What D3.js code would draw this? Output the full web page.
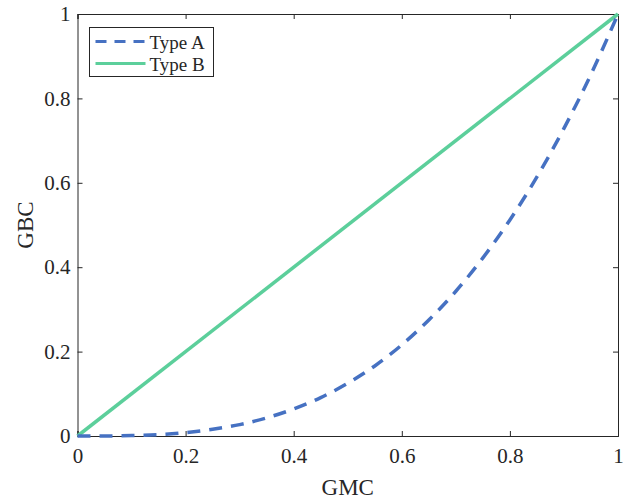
<!DOCTYPE html>
<html>
<head>
<meta charset="utf-8">
<script src="https://cdn.jsdelivr.net/npm/d3@7"></script>
<style>
  body { margin: 0; background: #fff; }
  text { font-family: "Liberation Serif", "DejaVu Serif", serif; fill: #262626; }
</style>
</head>
<body>
<svg id="chart" width="636" height="500"></svg>
<script>
// values
const gmc = [0, 0.05, 0.1, 0.15, 0.2, 0.25, 0.3, 0.35, 0.4, 0.45, 0.5, 0.55, 0.6, 0.65, 0.7, 0.75, 0.8, 0.85, 0.9, 0.95, 1];
const typeA = [0, 0.0001, 0.001, 0.003, 0.008, 0.016, 0.027, 0.043, 0.064, 0.091, 0.125, 0.166, 0.216, 0.275, 0.343, 0.422, 0.512, 0.614, 0.729, 0.857, 1];
const typeBx = [0, 1];
const typeB = [0, 1];
const ticks = [0, 0.2, 0.4, 0.6, 0.8, 1];
const seriesNames = ['Type A', 'Type B'];

const svg = d3.select('#chart');
const plotLeft = 77.5, plotRight = 618, plotTop = 14, plotBottom = 436;

const x = d3.scaleLinear().domain([0, 1]).range([plotLeft, plotRight]);
const y = d3.scaleLinear().domain([0, 1]).range([plotBottom, plotTop]);

const fmt = d => d === 0 || d === 1 ? String(d) : d.toFixed(1);

// axes: ticks point inward, box all round
const tickLen = 5;
svg.append('g').attr('transform', 'translate(0,' + plotBottom + ')')
    .call(d3.axisBottom(x).tickValues(ticks).tickSize(-tickLen).tickPadding(12).tickFormat(fmt))
    .call(g => g.selectAll('text').attr('font-size', 21).style('font-family', '"Liberation Serif", serif'));
svg.append('g').attr('transform', 'translate(' + plotLeft + ',0)')
    .call(d3.axisLeft(y).tickValues(ticks).tickSize(-tickLen).tickPadding(7).tickFormat(fmt))
    .call(g => g.selectAll('text').attr('font-size', 21).style('font-family', '"Liberation Serif", serif'));
svg.append('g').attr('transform', 'translate(0,' + plotTop + ')')
    .call(d3.axisTop(x).tickValues(ticks).tickSize(-tickLen).tickFormat(''));
svg.append('g').attr('transform', 'translate(' + plotRight + ',0)')
    .call(d3.axisRight(y).tickValues(ticks).tickSize(-tickLen).tickFormat(''));
svg.selectAll('.domain, .tick line').attr('stroke', '#262626').attr('stroke-width', 1);

const lineA = d3.line().x((d, i) => x(gmc[i])).y(d => y(d)).curve(d3.curveMonotoneX);
const lineB = d3.line().x((d, i) => x(typeBx[i])).y(d => y(d));

svg.append('path').datum(typeB).attr('d', lineB)
    .attr('fill', 'none').attr('stroke', '#5ccf9b').attr('stroke-width', 3.5);
svg.append('path').datum(typeA).attr('d', lineA)
    .attr('fill', 'none').attr('stroke', '#4671c2').attr('stroke-width', 3.5)
    .attr('stroke-dasharray', '13,9');

// axis labels
svg.append('text').attr('x', (plotLeft + plotRight) / 2).attr('y', 495)
    .attr('text-anchor', 'middle').attr('font-size', 23).text('GMC');
svg.append('text').attr('transform', 'translate(33,' + (plotTop + plotBottom) / 2 + ') rotate(-90)')
    .attr('text-anchor', 'middle').attr('font-size', 23).text('GBC');

// legend
const legend = svg.append('g').attr('transform', 'translate(89.5,27.5)');
legend.append('rect').attr('width', 124).attr('height', 49)
    .attr('fill', '#fff').attr('stroke', '#262626').attr('stroke-width', 1);
const legendStyle = [
    { color: '#4671c2', dash: '11,8' },
    { color: '#5ccf9b', dash: null }
];
seriesNames.forEach((name, i) => {
    const row = legend.append('g').attr('transform', 'translate(0,' + (14 + i * 22) + ')');
    row.append('line').attr('x1', 6).attr('x2', 56).attr('y1', 0).attr('y2', 0)
        .attr('stroke', legendStyle[i].color).attr('stroke-width', 3)
        .attr('stroke-dasharray', legendStyle[i].dash);
    row.append('text').attr('x', 60).attr('y', 7).attr('font-size', 19).text(name);
});
</script>
</body>
</html>
